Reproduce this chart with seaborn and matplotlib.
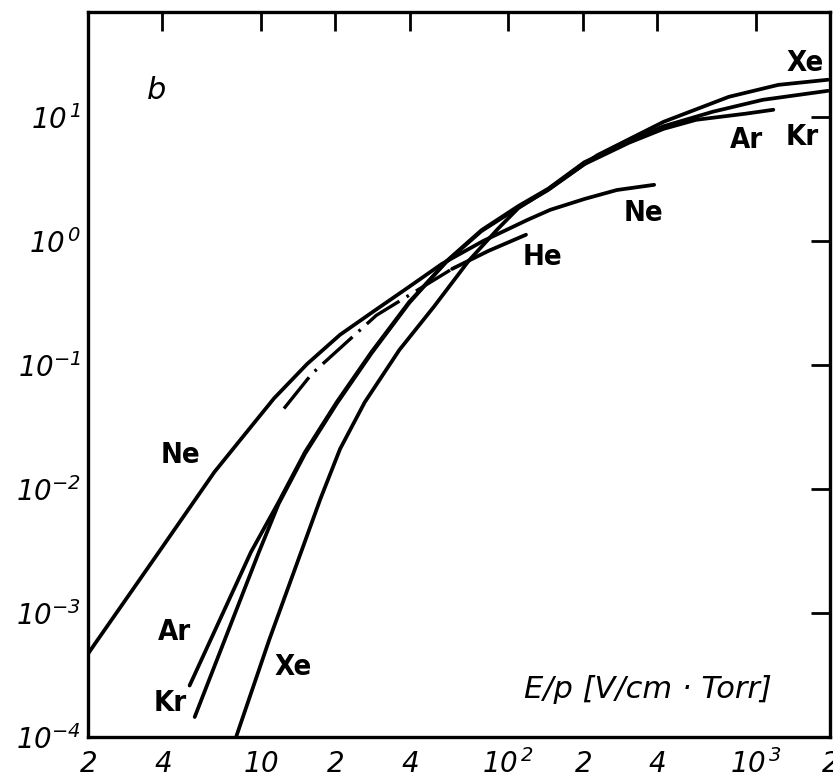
import matplotlib
matplotlib.use("Agg")
import matplotlib.pyplot as plt
import seaborn as sns

# Values (E/p in V/cm*Torr)
ne_x = [2.0, 2.13, 3.87, 6.49, 8.32, 11.3, 15.4, 20.9, 28.3, 39.8, 54.0, 79.4, 120, 148, 204,
        275, 389]
ne_y = [4.68e-4, 5.62e-4, 3.10e-3, 0.0137, 0.0253, 0.0537, 0.102, 0.175, 0.267, 0.427, 0.653,
        1.0, 1.48, 1.78, 2.18, 2.57, 2.83]

ar_x = [5.15, 9.12, 11.8, 15.1, 20.3, 28.0, 39.8, 56.2, 78.0, 110, 145, 203, 309, 425, 575,
        912, 1180]
ar_y = [2.6e-4, 3.1e-3, 7.85e-3, 0.0199, 0.0504, 0.127, 0.322, 0.676, 1.20, 1.86, 2.57,
        4.15, 6.2, 8.0, 9.46, 10.6, 11.4]

kr_x = [5.4, 9.82, 11.8, 15.1, 20.3, 28.0, 39.8, 56.2, 78.0, 110, 145, 203, 309, 425, 673,
        1067, 1960]
kr_y = [1.45e-4, 3.1e-3, 7.59e-3, 0.0193, 0.049, 0.124, 0.316, 0.684, 1.22, 1.91, 2.63,
        4.3, 6.4, 8.4, 11.0, 13.7, 16.2]

xe_x = [7.94, 10.8, 17.4, 20.9, 26.3, 36.3, 50.1, 69.2, 91.2, 110, 145, 229, 425, 780, 1236,
        1960]
xe_y = [1.0e-4, 6.05e-4, 8.3e-3, 0.021, 0.050, 0.132, 0.295, 0.69, 1.26, 1.84, 2.6, 4.9, 9.12,
        14.5, 18.1, 19.9]

he_dash_x = [12.4, 16.1, 29.3, 59.3]
he_dash_y = [0.0445, 0.0851, 0.251, 0.594]
he_solid_x = [59.3, 83.2, 118]
he_solid_y = [0.594, 0.83, 1.12]

x_ticks = [2, 4, 10, 20, 40, 100, 200, 400, 1000, 2000]
x_labels = ["$2$", "$4$", "$10$", "$2$", "$4$", "$10^{\\,2}$", "$2$", "$4$", "$10^{\\,3}$", "$2$"]
y_ticks = [1e-4, 1e-3, 1e-2, 1e-1, 1e0, 1e1]
y_labels = ["$10^{-4}$", "$10^{-3}$", "$10^{-2}$", "$10^{-1}$", "$10^{\\,0}$", "$10^{\\,1}$"]

sns.set_theme(style="white")
plt.rcParams["font.family"] = ["DejaVu Sans"]
plt.rcParams["text.color"] = "black"
plt.rcParams["mathtext.fontset"] = "custom"
plt.rcParams["mathtext.rm"] = "DejaVu Sans:italic"
plt.rcParams["mathtext.it"] = "DejaVu Sans:italic"
plt.rcParams["mathtext.default"] = "it"

fig = plt.figure(figsize=(8.33, 7.84), dpi=100)
ax = fig.add_axes([88 / 833, 47 / 784, 742 / 833, 725 / 784])
ax.set_xscale("log")
ax.set_yscale("log")

line_kw = dict(color="black", linewidth=2.7, estimator=None, ax=ax, legend=False)
sns.lineplot(x=ne_x, y=ne_y, **line_kw)
sns.lineplot(x=ar_x, y=ar_y, **line_kw)
sns.lineplot(x=kr_x, y=kr_y, **line_kw)
sns.lineplot(x=xe_x, y=xe_y, **line_kw)
sns.lineplot(x=he_solid_x, y=he_solid_y, **line_kw)
sns.lineplot(x=he_dash_x, y=he_dash_y, linestyle=(0, (12, 2.5, 0.8, 2.5)),
             color="black", linewidth=2.4, estimator=None, ax=ax, legend=False)

ax.set_xlim(2, 2000)
ax.set_ylim(1e-4, 70)
ax.set_xticks(x_ticks)
ax.set_xticklabels(x_labels)
ax.set_yticks(y_ticks)
ax.set_yticklabels(y_labels)
ax.minorticks_off()
ax.tick_params(direction="in", length=14, width=2, top=True, right=True,
               labelsize=20, pad=9, color="black", labelcolor="black")
ax.tick_params(axis="y", pad=5)
for side in ax.spines.values():
    side.set_visible(True)
    side.set_linewidth(2.4)
    side.set_color("black")

# Curve labels
lab = dict(transform=ax.transAxes, fontsize=21, fontweight="bold", ha="center",
           va="center", fontstretch="condensed")
ax.text(0.124, 0.389, "Ne", **lab)
ax.text(0.117, 0.145, "Ar", **lab)
ax.text(0.111, 0.047, "Kr", **lab)
ax.text(0.276, 0.097, "Xe", **lab)
ax.text(0.613, 0.662, "He", **lab)
ax.text(0.748, 0.723, "Ne", **lab)
ax.text(0.888, 0.823, "Ar", **lab)
ax.text(0.962, 0.828, "Kr", **lab)
ax.text(0.966, 0.930, "Xe", **lab)
ax.text(0.093, 0.892, "b", transform=ax.transAxes, fontsize=22, fontstyle="italic",
        ha="center", va="center")
ax.text(0.755, 0.066, "E/p [V/cm · Torr]", transform=ax.transAxes, fontsize=22,
        fontstyle="italic", ha="center", va="center")

plt.savefig("out.png", dpi=100)
plt.close(fig)
